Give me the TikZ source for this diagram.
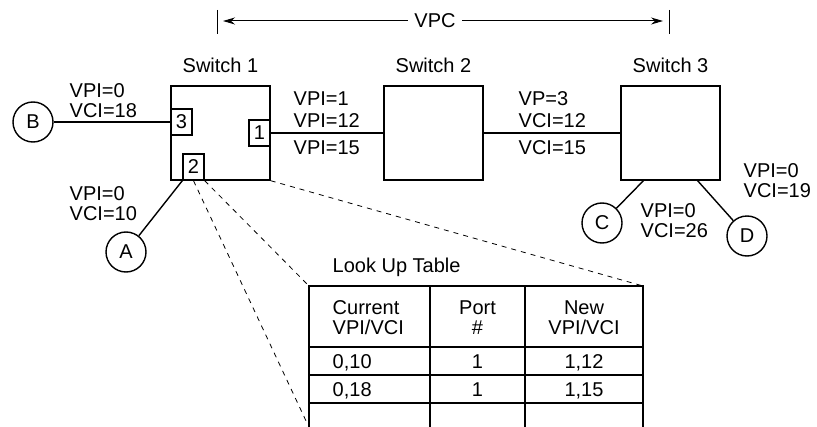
\documentclass[tikz,border=0pt]{standalone}
\usepackage{fontspec}
\setmainfont{Liberation Sans}
\usepackage{tikz}
\usetikzlibrary{arrows.meta, positioning, calc}
\tikzset{
  >=Stealth,
  switchbox/.style={draw, line width=0.7pt, minimum width=49.5pt, minimum height=47pt, inner sep=0pt},
  portbox/.style={draw, line width=0.7pt, minimum width=10.5pt, minimum height=13pt, inner sep=0pt},
  hostnode/.style={draw, circle, line width=0.7pt, minimum size=20pt, inner sep=0pt},
  vclabel/.style={anchor=north west, align=left, inner sep=0pt},
  linklabel/.style={vclabel, font=\fontsize{10}{11}\selectfont},
  zoomline/.style={line width=0.4pt, dash pattern=on 2.5pt off 2.5pt},
  vpcarrow/.style={-{Stealth[length=6pt, width=3.5pt]}, line width=0.5pt},
  tablerule/.style={line width=0.6pt},
  tableframe/.style={line width=1pt}
}

\begin{document}
\begin{tikzpicture}[x=0.5pt, y=-0.5pt, line width=0.7pt, every node/.style={font=\fontsize{10}{10}\selectfont}]
    \useasboundingbox (0,0) rectangle (817,427);

    % switches
    \node (sw1) [switchbox] at (220.5,133) {};
    \node (sw2) [switchbox] at (433.5,133) {};
    \node (sw3) [switchbox] at (670.5,133) {};
    \node (sw1lbl) [above=6pt of sw1, inner sep=0pt] {Switch 1};
    \node (sw2lbl) [above=6pt of sw2, inner sep=0pt] {Switch 2};
    \node (sw3lbl) [above=6pt of sw3, inner sep=0pt] {Switch 3};

    % ports of switch 1
    \node (p3) [portbox, anchor=west] at ([yshift=5.5pt]sw1.west) {3};
    \node (p1) [portbox, anchor=east] at (sw1.east) {1};
    \node (p2) [portbox, anchor=south] at ([xshift=-13.5pt]sw1.south) {2};

    % end hosts
    \node (b) [hostnode] at (33,122) {B};
    \node (a) [hostnode] at (126,252) {A};
    \node (c) [hostnode] at (602,223) {C};
    \node (d) [hostnode] at (747,236) {D};

    \draw (b) -- (p3);
    \draw (p1) -- (sw2);
    \draw (sw2) -- (sw3);
    \draw (a) -- (p2.south west);
    \draw (c) -- ($(sw3.south west)!0.23!(sw3.south east)$);
    \draw (d) -- ($(sw3.south west)!0.77!(sw3.south east)$);

    % VPI/VCI labels
    \node (lblb) [vclabel] at (69,83) {VPI=0\\VCI=18};
    \node (lbla) [vclabel] at (69,186) {VPI=0\\VCI=10};
    \node (lbl12) [linklabel] at (293,91) {VPI=1\\VPI=12};
    \node (lbl15) [anchor=base west, inner sep=0pt] at (293,155) {VPI=15};
    \node (lbl23) [linklabel] at (518,91) {VP=3\\VCI=12};
    \node (lbl23b) [anchor=base west, inner sep=0pt] at (518,155) {VCI=15};
    \node (lblc) [vclabel] at (640,203) {VPI=0\\VCI=26};
    \node (lbld) [vclabel] at (743,163) {VPI=0\\VCI=19};

    % VPC span
    \node (vpc) [inner sep=3pt] at (435,21) {VPC};
    \coordinate (vpcl) at (223,21);
    \coordinate (vpcr) at (663,21);
    \draw[vpcarrow] (vpc) -- (vpcl);
    \draw[vpcarrow] (vpc) -- (vpcr);
    \draw[line width=0.5pt] (217,10) -- (217,34);
    \draw[line width=0.5pt] (669,10) -- (669,34);

    % look up table
    \coordinate (tbl) at (309,286);
    \coordinate (tbr) at (643,286);
    \coordinate (tbb) at (307,423);
    \draw[zoomline] (p2.south) -- (tbb);
    \draw[zoomline] (p2.south east) -- (tbl);
    \draw[zoomline] (sw1.south east) -- (tbr);

    \node (tbltitle) [anchor=base west, inner sep=0pt] at (332,272) {Look Up Table};
    \draw[tableframe] (309,427) -- (tbl) -- (tbr) -- (643,427);
    \foreach \x in {430,525} \draw[tablerule] (\x,286) -- (\x,427);
    \foreach \y in {347,375,403} \draw[tablerule] (309,\y) -- (643,\y);

    \node (hcur) [vclabel] at (332,300) {Current\\VPI/VCI};
    \node (hport) [anchor=north, align=center, inner sep=0pt] at (477.5,300) {Port\\\#};
    \node (hnew) [anchor=north, align=center, inner sep=0pt] at (584,300) {New\\VPI/VCI};
    \node (r1a) [anchor=base west, inner sep=0pt] at (332,368) {0,10};
    \node (r1b) [anchor=base, inner sep=0pt] at (477.5,368) {1};
    \node (r1c) [anchor=base, inner sep=0pt] at (584,368) {1,12};
    \node (r2a) [anchor=base west, inner sep=0pt] at (332,396) {0,18};
    \node (r2b) [anchor=base, inner sep=0pt] at (477.5,396) {1};
    \node (r2c) [anchor=base, inner sep=0pt] at (584,396) {1,15};
\end{tikzpicture}
\end{document}
